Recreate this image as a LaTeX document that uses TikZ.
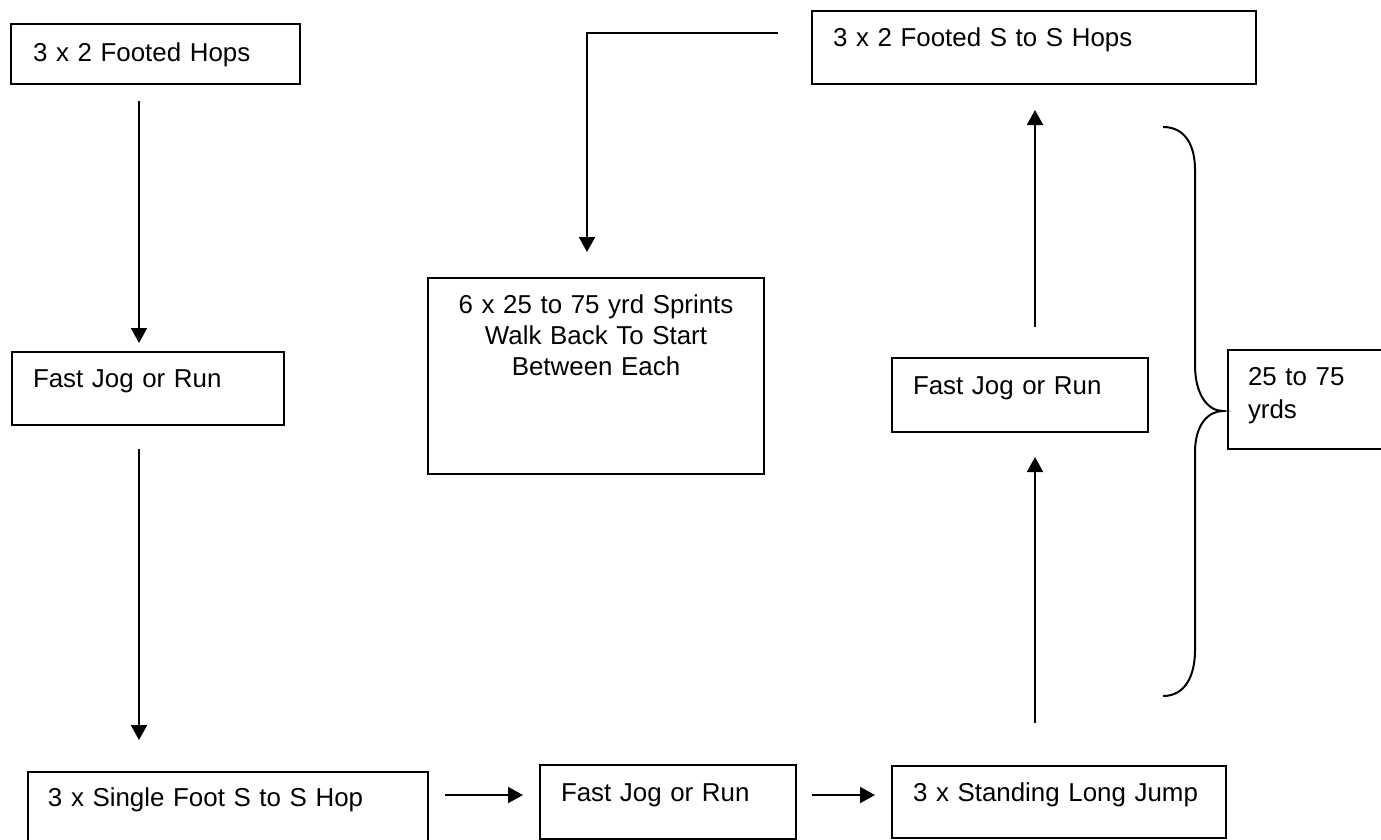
\documentclass[tikz,border=0pt]{standalone}
\usepackage{fontspec}
\setmainfont{Liberation Sans}
\usetikzlibrary{arrows.meta}
\begin{document}
\begin{tikzpicture}[x=0.45pt, y=-0.45pt, line width=0.9pt,
  stage/.style={draw, anchor=north west, inner xsep=9.45pt, inner ysep=0pt, align=left,
    font=\fontsize{11.65}{13.95}\selectfont},
  flow/.style={-{Triangle[length=6.75pt, width=7.2pt]}}]

\path[use as bounding box, clip] (0,0) rectangle (1381,839);

% boxes
\node[stage, inner xsep=9.9pt, text width=110.25pt, text height=16.65pt, text depth=10.35pt] (hops) at (10,23) {3 x 2 Footed Hops};
\node[stage, text width=103.5pt, text height=15.75pt, text depth=17.1pt] (jogL) at (11,351) {Fast Jog or Run};
\node[stage, inner xsep=9pt, text width=162pt, text height=15.3pt, text depth=18pt] (single) at (27,771) {3 x Single Foot S to S Hop};
\node[stage, text width=96.3pt, text height=16.2pt, text depth=17.1pt] (jogM) at (539,764) {Fast Jog or Run};
\node[stage, text width=131.4pt, text height=15.75pt, text depth=16.65pt] (longjump) at (891,765) {3 x Standing Long Jump};
\node[stage, text width=96.3pt, text height=16.2pt, text depth=17.1pt] (jogR) at (891,357) {Fast Jog or Run};
\node[stage, text width=180.9pt, text height=15.75pt, text depth=17.1pt] (hopsS) at (811,10) {3 x 2 Footed S to S Hops};
\node[stage, inner xsep=0pt, align=center, text width=151.2pt, text height=15.75pt, text depth=72.45pt] (sprints) at (427,277) {6 x 25 to 75 yrd Sprints\\Walk Back To Start\\Between Each};
\node[stage, inner xsep=9pt, text width=59.85pt, text height=15.75pt, text depth=28.8pt,
  font=\fontsize{11.65}{14.85}\selectfont] (yards) at (1227,349) {25 to 75\\yrds};

% connector lines
\coordinate (colL) at (139,0);
\coordinate (colR) at (1035,0);
\coordinate (colS) at (587,0);
\coordinate (rowB) at (0,795);
\coordinate (rowT) at (0,33);

\draw[flow, shorten <=7.2pt, shorten >=3.6pt] (hops.south -| colL) -- (jogL.north -| colL);
\draw[flow, shorten <=10.35pt, shorten >=13.95pt] (jogL.south -| colL) -- (single.north -| colL);
\draw[flow, shorten <=7.2pt, shorten >=7.2pt] (single.east |- rowB) -- (jogM.west |- rowB);
\draw[flow, shorten <=6.75pt, shorten >=7.2pt] (jogM.east |- rowB) -- (longjump.west |- rowB);
\draw[flow, shorten <=18.9pt, shorten >=10.8pt] (longjump.north -| colR) -- (jogR.south -| colR);
\draw[flow, shorten <=13.5pt, shorten >=11.25pt] (jogR.north -| colR) -- (hopsS.south -| colR);
\draw[flow, shorten <=14.85pt, shorten >=11.25pt] (hopsS.west |- rowT) -| (sprints.north -| colS);

% brace
\draw (1163,127) .. controls (1185,127) and (1195,145) .. (1195,170) -- (1195,365)
  .. controls (1195,395) and (1208,411) .. (1223,411)
  .. controls (1208,411) and (1195,425) .. (1195,452) -- (1195,650)
  .. controls (1195,676) and (1185,696) .. (1163,696);

\end{tikzpicture}
\end{document}
